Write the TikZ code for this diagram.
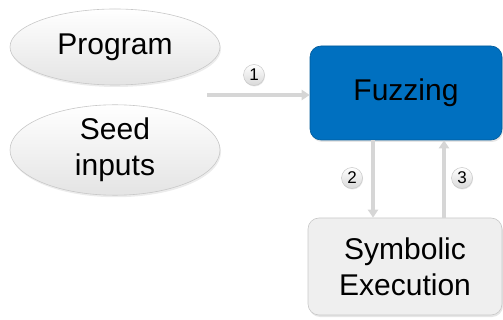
\documentclass[tikz,border=0pt]{standalone}
\usepackage{fontspec}
\setmainfont{Liberation Sans}
\usetikzlibrary{arrows.meta,shapes.geometric,shadows}
\definecolor{fuzzblue}{HTML}{0070C0}
\definecolor{linegray}{HTML}{D6D6D6}
\definecolor{boxgray}{HTML}{EFEFEF}
\definecolor{edgegray}{HTML}{C8C8C8}
\tikzset{
  bigtext/.style={font=\fontsize{30}{36}\selectfont, align=center, text=black},
  ell/.style={ellipse, draw=edgegray, line width=0.6pt, top color=white, bottom color=boxgray!90!gray, minimum width=210pt, minimum height=76pt, inner sep=0pt, drop shadow={opacity=0.15, shadow xshift=1pt, shadow yshift=-2pt}},
  boxbase/.style={rounded corners=11pt, inner sep=0pt, drop shadow={opacity=0.2, shadow xshift=1pt, shadow yshift=-2pt}},
  flow/.style={draw=linegray, line width=3.5pt, -{Triangle[length=8pt,width=10pt]}},
  num/.style={circle, draw=edgegray, line width=0.5pt, top color=white, bottom color=boxgray!80!gray, minimum size=21pt, inner sep=0pt, font=\fontsize{17}{17}\selectfont, drop shadow={opacity=0.2, shadow xshift=0.5pt, shadow yshift=-1pt}}
}
\begin{document}
\begin{tikzpicture}[x=1pt,y=-1pt]
\useasboundingbox (0,0) rectangle (503,320);
\node[ell, bigtext] (prog) at (115,47) {Program};
\node[ell, bigtext, minimum height=80pt] (seed) at (115,150) {Seed\\inputs};
\node[boxbase, fill=fuzzblue, draw=fuzzblue!80!black, line width=0.6pt, minimum width=192pt, minimum height=94pt, bigtext] (fuzz) at (406,93) {Fuzzing};
\node[boxbase, fill=boxgray, draw=edgegray, line width=0.6pt, minimum width=194pt, minimum height=97pt, bigtext] (sym) at (405,266.5) {Symbolic\\Execution};
\coordinate (start) at (207,95);
\draw[flow] (start) -- (fuzz.west |- start);
\draw[flow] (fuzz.south -| 373,0) -- (sym.north -| 373,0);
\draw[flow] (sym.north -| 444,0) -- (fuzz.south -| 444,0);
\node[num] (n1) at (254,75) {1};
\node[num] (n2) at (352,178) {2};
\node[num] (n3) at (462,178) {3};
\end{tikzpicture}
\end{document}
